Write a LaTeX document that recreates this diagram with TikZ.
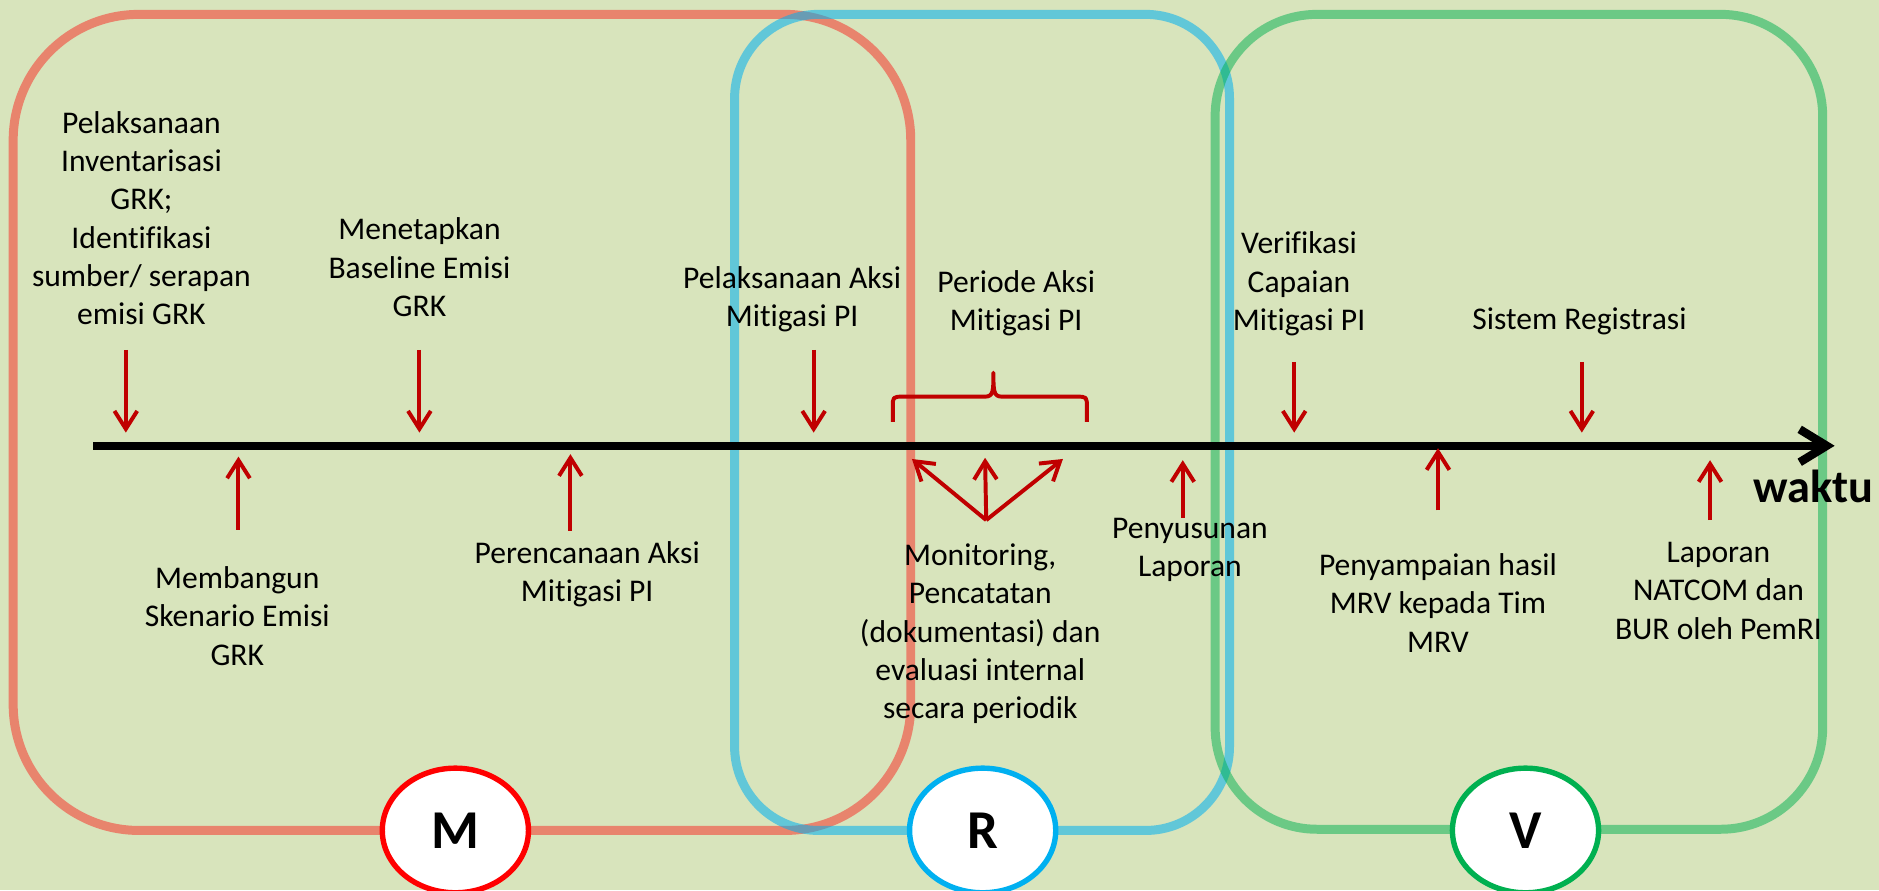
\documentclass[tikz,border=0pt]{standalone}
\usepackage{fontspec}
\setmainfont{Carlito}[Ligatures=NoCommon]
\usetikzlibrary{arrows.meta,shapes.geometric}

\definecolor{bgreen}{HTML}{D8E4BC}
\definecolor{mred}{HTML}{FF0000}
\definecolor{rblue}{HTML}{00B0F0}
\definecolor{vgreen}{HTML}{00B050}
\definecolor{darkred}{HTML}{C00000}

\tikzset{
  txt/.style={align=center, inner sep=0pt, font=\fontsize{15}{18.2}\selectfont},
  ptr/.style={draw=darkred, line width=0.066cm, -{Straight Barb[length=0.3cm,width=0.38cm]}},
  frameline/.style={draw=#1, line width=0.15cm},
  phase/.style={ellipse, draw=#1, fill=white, line width=0.09cm, minimum width=2.44cm, minimum height=2.08cm, inner sep=0pt, font=\fontsize{26}{26}\selectfont\bfseries},
}

\begin{document}
\begin{tikzpicture}[x=0.02cm, y=-0.02cm]
    \fill[bgreen] (0,0) rectangle (1568,743);
    \useasboundingbox (0,0) rectangle (1568,743);

    % M, R, V frames
    \draw[frameline=mred, draw opacity=0.42, rounded corners=2.1cm] (11,12) rectangle (760,693);
    \draw[frameline=rblue, draw opacity=0.55, rounded corners=1.4cm] (613,12) rectangle (1026,693);
    \draw[frameline=vgreen, draw opacity=0.5, rounded corners=1.7cm] (1014,12) rectangle (1521,692);

    % time axis
    \coordinate (t0) at (78,372);
    \coordinate (t1) at (1531,372);
    \draw[line width=0.14cm, -{Straight Barb[length=0.45cm,width=0.55cm]}] (t0) -- (t1);
    \node[anchor=base, font=\fontsize{22}{22}\selectfont\bfseries] (waktu) at (1513,419) {waktu};

    % labels above the axis
    \node[txt] (inv) at (118,182) {Pelaksanaan\\Inventarisasi\\GRK;\\Identifikasi\\sumber/ serapan\\emisi GRK};
    \node[txt] (bsl) at (350,223) {Menetapkan\\Baseline Emisi\\GRK};
    \node[txt] (pel) at (661,250) {Pelaksanaan Aksi\\Mitigasi PI};
    \node[txt] (per) at (848,253) {Periode Aksi\\Mitigasi PI};
    \node[txt] (ver) at (1084,237) {Verifikasi\\Capaian\\Mitigasi PI};
    \node[txt] (sis) at (1318,268) {Sistem Registrasi};

    % labels below the axis
    \node[txt] (mbg) at (198,514) {Membangun\\Skenario Emisi\\GRK};
    \node[txt] (pcn) at (490,479) {Perencanaan Aksi\\Mitigasi PI};
    \node[txt] (mon) at (818,529) {Monitoring,\\Pencatatan\\(dokumentasi) dan\\evaluasi internal\\secara periodik};
    \node[txt] (pny) at (993,459) {Penyusunan\\Laporan};
    \node[txt] (pmr) at (1200,503) {Penyampaian hasil\\MRV kepada Tim\\MRV};
    \node[txt] (lpr) at (1434,493) {Laporan\\NATCOM dan\\BUR oleh PemRI};

    % arrow ends
    \coordinate (inv-a) at (105,292);  \coordinate (inv-b) at (105,361);
    \coordinate (bsl-a) at (350,292);  \coordinate (bsl-b) at (350,361);
    \coordinate (pel-a) at (679,292);  \coordinate (pel-b) at (679,361);
    \coordinate (ver-a) at (1080,302); \coordinate (ver-b) at (1080,361);
    \coordinate (sis-a) at (1320,302); \coordinate (sis-b) at (1320,361);
    \coordinate (mbg-a) at (199,442);  \coordinate (mbg-b) at (199,381);
    \coordinate (pcn-a) at (476,443);  \coordinate (pcn-b) at (476,379);
    \coordinate (pny-a) at (987,432);  \coordinate (pny-b) at (987,384);
    \coordinate (pmr-a) at (1200,426); \coordinate (pmr-b) at (1200,374);
    \coordinate (lpr-a) at (1427,434); \coordinate (lpr-b) at (1427,384);
    \coordinate (mon-o) at (823,434);
    \coordinate (mon-l) at (761,383);
    \coordinate (mon-m) at (822,382);
    \coordinate (mon-r) at (887,383);

    \draw[ptr] (inv-a) -- (inv-b);
    \draw[ptr] (bsl-a) -- (bsl-b);
    \draw[ptr] (pel-a) -- (pel-b);
    \draw[ptr] (ver-a) -- (ver-b);
    \draw[ptr] (sis-a) -- (sis-b);
    \draw[ptr] (mbg-a) -- (mbg-b);
    \draw[ptr] (pcn-a) -- (pcn-b);
    \draw[ptr] (pny-a) -- (pny-b);
    \draw[ptr] (pmr-a) -- (pmr-b);
    \draw[ptr] (lpr-a) -- (lpr-b);
    \draw[ptr] (mon-o) -- (mon-l);
    \draw[ptr] (mon-o) -- (mon-m);
    \draw[ptr] (mon-o) -- (mon-r);

    % brace over the monitoring period
    \draw[darkred, line width=0.066cm, line join=round] (745,352) -- (745,340) .. controls (745,331) .. (754,331) -- (822,331) .. controls (829,331) and (829,326) .. (829,311) .. controls (829,326) and (829,331) .. (836,331) -- (898,331) .. controls (907,331) .. (907,340) -- (907,352);

    % phase circles
    \node[phase=mred] (M) at (380,693) {M};
    \node[phase=rblue] (R) at (820,693) {R};
    \node[phase=vgreen] (V) at (1273,693) {V};
\end{tikzpicture}
\end{document}
